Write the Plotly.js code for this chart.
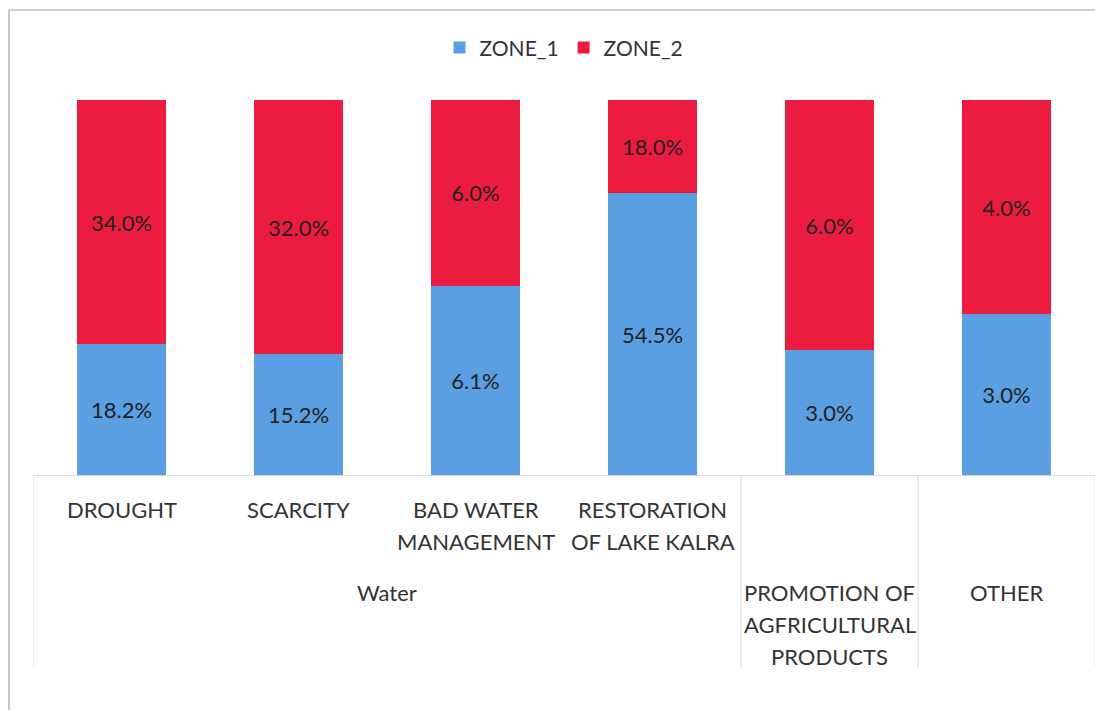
<!DOCTYPE html>
<html>
<head>
<meta charset="utf-8">
<script src="https://cdn.plot.ly/plotly-3.0.1.min.js"></script>
<style>html,body{margin:0;padding:0;background:#fff;}#chart{width:1095px;height:710px;}</style>
</head>
<body>
<div id="chart"></div>
<script>
// ---- data ----
var subLabels = ["DROUGHT", "SCARCITY", "BAD WATER<br>MANAGEMENT", "RESTORATION<br>OF LAKE KALRA", "", ""];
var groupLabels = ["Water", "Water", "Water", "Water", "PROMOTION OF<br>AGFRICULTURAL<br>PRODUCTS", "OTHER"];
var zone1 = [18.2, 15.2, 6.1, 54.5, 3.0, 3.0];
var zone2 = [34.0, 32.0, 6.0, 18.0, 6.0, 4.0];
var seriesNames = ["ZONE_1", "ZONE_2"];

// ---- build ----
var idx = subLabels.map(function (_, i) { return i; });
var FONT = "Lato, 'Liberation Sans', Arial, sans-serif";
var txtColor = "#333333";
var valColor = "#222222";
function fmt(v) { return v.toFixed(1) + "%"; }

var t1 = {
  type: "bar", name: seriesNames[0], x: idx, y: zone1,
  marker: { color: "#5B9FE3" },
  text: zone1.map(fmt), textposition: "inside", insidetextanchor: "middle",
  textangle: 0, constraintext: "none",
  textfont: { family: FONT, size: 22, color: valColor },
  hoverinfo: "none"
};
var t2 = {
  type: "bar", name: seriesNames[1], x: idx, y: zone2,
  marker: { color: "#EC1C40" },
  text: zone2.map(fmt), textposition: "inside", insidetextanchor: "middle",
  textangle: 0, constraintext: "none",
  textfont: { family: FONT, size: 22, color: valColor },
  hoverinfo: "none"
};

var annotations = [];
var LINE = 32;
function addLines(text, xc, firstCenterPx) {
  text.split("<br>").forEach(function (ln, k) {
    if (!ln) return;
    annotations.push({
      x: xc, xref: "x", y: 0, yref: "paper",
      yshift: -(firstCenterPx + LINE * k), yanchor: "middle", xanchor: "center",
      text: ln, showarrow: false,
      font: { family: FONT, size: 22, color: txtColor }
    });
  });
}
// inner labels (first row)
subLabels.forEach(function (s, i) { addLines(s, i, 34); });
// group labels (second row), centred over their runs
var shapes = [];
var start = 0;
for (var i = 1; i <= groupLabels.length; i++) {
  if (i === groupLabels.length || groupLabels[i] !== groupLabels[start]) {
    addLines(groupLabels[start], (start + i - 1) / 2, 117);
    start = i;
  }
}
// table divider lines at group boundaries
var bounds = [-0.5];
for (var j = 1; j < groupLabels.length; j++) {
  if (groupLabels[j] !== groupLabels[j - 1]) bounds.push(j - 0.5);
}
bounds.push(groupLabels.length - 0.5);
bounds.forEach(function (b) {
  shapes.push({ type: "line", xref: "x", yref: "paper", x0: b, x1: b, y0: 0, y1: -0.515,
    line: { color: "#d9d9d9", width: 1 } });
});
// outer chart border
shapes.push({ type: "rect", xref: "paper", yref: "paper",
  x0: -0.0226, x1: 1.02, y0: -0.70, y1: 1.24,
  line: { color: "#a6a6a6", width: 1.2 }, fillcolor: "rgba(0,0,0,0)" });

var layout = {
  width: 1095, height: 710,
  margin: { l: 33, r: 0, t: 100, b: 235 },
  paper_bgcolor: "#ffffff", plot_bgcolor: "#ffffff",
  barmode: "stack", barnorm: "percent", bargap: 0.5,
  showlegend: true,
  legend: {
    orientation: "h", traceorder: "normal", x: 0.5, xanchor: "center", y: 1.139, yanchor: "middle",
    font: { family: FONT, size: 21, color: txtColor }, itemclick: false
  },
  xaxis: {
    range: [-0.5, 5.5], showticklabels: false, showgrid: false, zeroline: false,
    showline: true, linecolor: "#d9d9d9", linewidth: 1, ticks: "", fixedrange: true
  },
  yaxis: {
    range: [0, 100], showticklabels: false, showgrid: false, zeroline: false,
    showline: false, ticks: "", fixedrange: true
  },
  annotations: annotations,
  shapes: shapes
};

Plotly.newPlot("chart", [t1, t2], layout, { displayModeBar: false, staticPlot: true });
</script>
</body>
</html>
